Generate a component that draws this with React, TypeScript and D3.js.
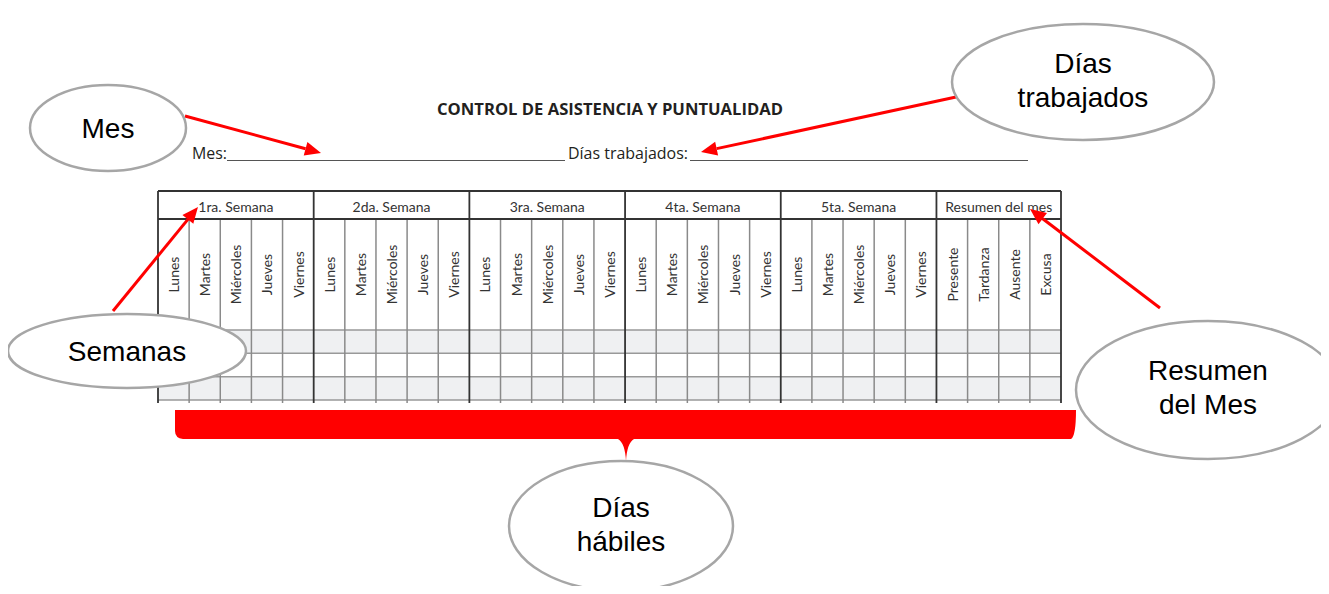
import * as d3 from "d3";

const weeks = ["1ra. Semana", "2da. Semana", "3ra. Semana", "4ta. Semana", "5ta. Semana"];
const days = ["Lunes", "Martes", "Miércoles", "Jueves", "Viernes"];
const summaryLabel = "Resumen del mes";
const summary = ["Presente", "Tardanza", "Ausente", "Excusa"];
const dataRows = [0, 1, 2];
const title = "CONTROL DE ASISTENCIA Y PUNTUALIDAD";

const W = 1329;
const H = 594;

const RED = "#ff0000";
const INK = "#231f20";

// columnas: 25 días + 4 de resumen
const columns = [
  ...weeks.flatMap((w, wi) => days.map((d, di) => ({ key: `${wi}-${di}`, label: d, first: di === 0 }))),
  ...summary.map((s, si) => ({ key: `r-${si}`, label: s, first: si === 0 })),
];

const Callout = ({ cx, cy, rx, ry, lines, dy = 0 }: { cx: number; cy: number; rx: number; ry: number; lines: string[]; dy?: number }) => {
  const lh = 34;
  const y0 = cy + dy - ((lines.length - 1) * lh) / 2;
  return (
    <g>
      <ellipse cx={cx} cy={cy} rx={rx} ry={ry} fill="#fff" stroke="#a6a6a6" strokeWidth={2.5} />
      {lines.map((t, i) => (
        <text
          key={i}
          x={cx}
          y={y0 + i * lh}
          textAnchor="middle"
          dominantBaseline="central"
          fontFamily="'Liberation Sans', Arial, sans-serif"
          fontSize={28}
          fill="#000"
        >
          {t}
        </text>
      ))}
    </g>
  );
};

const Arrow = ({ x1, y1, x2, y2 }: { x1: number; y1: number; x2: number; y2: number }) => {
  const a = Math.atan2(y2 - y1, x2 - x1);
  const len = 16;
  const half = 7;
  const bx = x2 - len * Math.cos(a);
  const by = y2 - len * Math.sin(a);
  const px = -Math.sin(a) * half;
  const py = Math.cos(a) * half;
  return (
    <g>
      <line x1={x1} y1={y1} x2={bx} y2={by} stroke={RED} strokeWidth={3} />
      <polygon points={`${x2},${y2} ${bx + px},${by + py} ${bx - px},${by - py}`} fill={RED} />
    </g>
  );
};

export default function App() {
  const x = d3
    .scaleBand<string>()
    .domain(columns.map((c) => c.key))
    .range([158, 1061]);
  const bw = x.bandwidth();

  const headerTop = 191;
  const headerBottom = 219;
  const labelBottom = 330;
  const y = d3
    .scaleBand<number>()
    .domain(dataRows)
    .range([labelBottom, 400]);
  const gridBottom = 403;

  const weekX = (i: number) => x(`${i}-0`)!;
  const sumX = x("r-0")!;
  const groups = [
    ...weeks.map((w, i) => ({ label: w, x0: weekX(i), x1: weekX(i) + bw * 5 })),
    { label: summaryLabel, x0: sumX, x1: sumX + bw * 4 },
  ];

  // llave roja bajo la tabla
  const bx0 = 175, bx1 = 1076, by0 = 410, by1 = 439, tipX = 626, tipY = 461;
  const brace = d3.path();
  brace.moveTo(bx0, by0);
  brace.lineTo(bx1, by0);
  brace.quadraticCurveTo(bx1, by1 - 3, bx1 - 5, by1);
  brace.lineTo(tipX + 8, by1);
  brace.quadraticCurveTo(tipX + 1, by1 + 4, tipX, tipY);
  brace.quadraticCurveTo(tipX - 1, by1 + 4, tipX - 8, by1);
  brace.lineTo(bx0 + 8, by1);
  brace.quadraticCurveTo(bx0, by1 - 1, bx0, by1 - 8);
  brace.closePath();

  return (
    <svg width={W} height={H} style={{ display: "block", margin: -8 }} viewBox={`0 0 ${W} ${H}`}>
      <rect width={W} height={H} fill="#fff" />

      {/* encabezado del formulario */}
      <text
        x={610}
        y={115}
        textAnchor="middle"
        fontFamily="'Open Sans', sans-serif"
        fontWeight="bold"
        fontSize={16.5}
        textLength={346}
        lengthAdjust="spacingAndGlyphs"
        fill={INK}
      >
        {title}
      </text>
      <g fontFamily="'Open Sans', sans-serif" fontSize={16} fill={INK}>
        <text x={192} y={159} textLength={35} lengthAdjust="spacingAndGlyphs">Mes:</text>
        <line x1={227} x2={565} y1={160.5} y2={160.5} stroke="#555" strokeWidth={1} />
        <text x={568} y={159} textLength={120} lengthAdjust="spacingAndGlyphs">Días trabajados:</text>
        <line x1={690} x2={1028} y1={160.5} y2={160.5} stroke="#555" strokeWidth={1} />
      </g>

      {/* filas sombreadas */}
      {dataRows.map((r) => (
        <rect key={r} x={158} y={y(r)} width={1061 - 158} height={y.bandwidth()} fill={r % 2 === 0 ? "#eff0f2" : "#fff"} />
      ))}
      {[labelBottom, ...dataRows.map((r) => y(r)! + y.bandwidth())].map((yy, i) => (
        <line key={i} x1={158} x2={1061} y1={yy} y2={yy} stroke="#999" strokeWidth={1.5} />
      ))}

      {/* líneas verticales de días */}
      {columns.map((c) =>
        c.first ? null : (
          <line key={c.key} x1={x(c.key)} x2={x(c.key)} y1={headerBottom} y2={gridBottom} stroke="#8a8a8a" strokeWidth={1.5} />
        )
      )}
      {/* separadores de semana */}
      {[...groups.map((g) => g.x0), 1061].map((xx, i) => (
        <line key={i} x1={xx} x2={xx} y1={headerTop} y2={gridBottom} stroke="#333" strokeWidth={1.8} />
      ))}
      <line x1={158} x2={1061} y1={headerTop} y2={headerTop} stroke="#333" strokeWidth={1.8} />
      <line x1={158} x2={1061} y1={headerBottom} y2={headerBottom} stroke="#333" strokeWidth={1.8} />

      {/* rótulos de semana */}
      {groups.map((g) => (
        <text
          key={g.label}
          x={(g.x0 + g.x1) / 2}
          y={206}
          textAnchor="middle"
          dominantBaseline="central"
          fontFamily="Lato, sans-serif"
          fontSize={14}
          fill="#333"
        >
          {g.label}
        </text>
      ))}

      {/* días rotados */}
      {columns.map((c) => {
        const cx = x(c.key)! + bw / 2;
        const cy = (headerBottom + labelBottom) / 2;
        return (
          <text
            key={c.key}
            transform={`translate(${cx},${cy}) rotate(-90)`}
            textAnchor="middle"
            dominantBaseline="central"
            fontFamily="Lato, sans-serif"
            fontSize={14}
            fill="#333"
          >
            {c.label}
          </text>
        );
      })}

      <path d={brace.toString()} fill={RED} />

      <Arrow x1={185} y1={116} x2={321} y2={153} />
      <Arrow x1={956} y1={97} x2={701} y2={152} />
      <Arrow x1={113} y1={311} x2={198} y2={207} />
      <Arrow x1={1160} y1={308} x2={1030} y2={209} />

      <Callout cx={108} cy={128} rx={78} ry={43} lines={["Mes"]} />
      <Callout cx={1083} cy={82} rx={131} ry={58} lines={["Días", "trabajados"]} dy={-2} />
      <Callout cx={127} cy={351} rx={119} ry={37} lines={["Semanas"]} />
      <Callout cx={1208} cy={390} rx={132} ry={69} lines={["Resumen", "del Mes"]} dy={-3} />
      <Callout cx={621} cy={526} rx={112} ry={65} lines={["Días", "hábiles"]} dy={-2} />
    </svg>
  );
}
